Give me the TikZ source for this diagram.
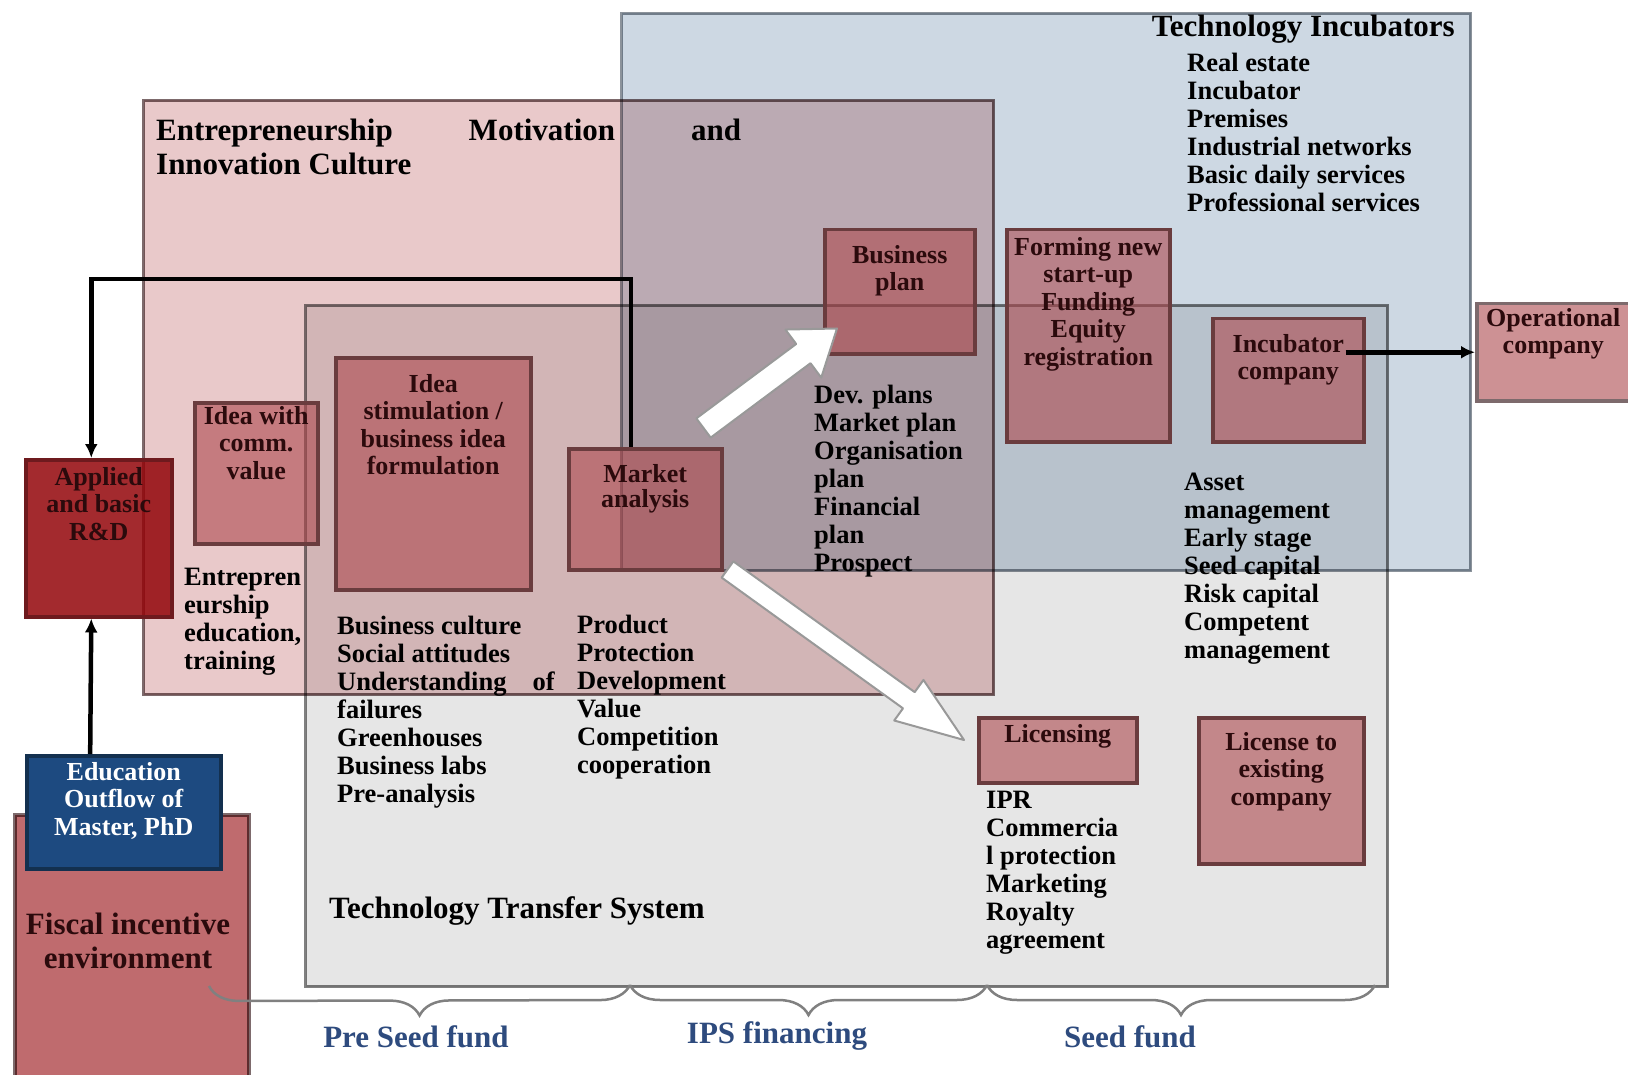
\documentclass[tikz,border=0pt]{standalone}
\usepackage{fontspec}
\setmainfont{Liberation Serif}
\usetikzlibrary{positioning,arrows.meta,calc,decorations.pathreplacing}

\definecolor{incblue}{HTML}{CDD8E3}
\definecolor{incline}{HTML}{8C939B}
\definecolor{entpink}{HTML}{E9C9CA}
\definecolor{entline}{HTML}{7D6A6C}
\definecolor{ttsgray}{HTML}{E6E6E6}
\definecolor{ttsline}{HTML}{808080}
\definecolor{rose}{HTML}{AD484D}
\definecolor{roseline}{HTML}{6A3C3E}
\definecolor{rdred}{HTML}{93050A}
\definecolor{rdline}{HTML}{6E1A1E}
\definecolor{edublue}{HTML}{1D4A80}
\definecolor{eduline}{HTML}{13304F}
\definecolor{fiscal}{HTML}{BF6B6E}
\definecolor{fundblue}{HTML}{2E4B7E}
\definecolor{boxink}{HTML}{2B0A0C}

\tikzset{
  body/.style={font=\fontsize{26.5}{28}\selectfont\bfseries, align=left, inner sep=0pt, anchor=north west},
  title/.style={font=\fontsize{31}{34}\selectfont\bfseries, align=left, inner sep=0pt, anchor=north west},
  area/.style={draw, line width=3pt, anchor=north west, inner sep=0pt},
  rosebox/.style={draw=roseline, fill=rose, fill opacity=0.6, line width=3.5pt, anchor=north west, inner sep=0pt},
  boxtxt/.style={font=\fontsize{26}{27.5}\selectfont\bfseries, text=boxink, align=center, inner sep=0pt},
  link/.style={line width=4.5pt, -{Latex[length=14pt,width=13pt]}},
  blockarrow/.style={draw=gray!80, fill=white, line width=2pt, line join=round},
  fund/.style={decorate, decoration={brace, mirror, amplitude=30pt}, draw=gray, line width=2.5pt},
  fundtxt/.style={font=\fontsize{31}{33}\selectfont\bfseries, text=fundblue, inner sep=0pt},
}

\begin{document}
\begin{tikzpicture}[x=1pt,y=-1pt]
\useasboundingbox (0,0) rectangle (1628,1075);
\fill[white] (0,0) rectangle (1628,1075);

\begin{scope}[blend mode=multiply]
% the three areas
\node[area, draw=incline, fill=incblue, minimum width=849pt, minimum height=557pt] (incarea) at (620,12) {};
\node[area, draw=entline, fill=entpink, minimum width=850pt, minimum height=594pt] (entarea) at (142,99) {};
\node[area, draw=ttsline, fill=ttsgray, minimum width=1082pt, minimum height=681pt] (ttsarea) at (304,304) {};
\node[area, draw=entline, fill=fiscal, line width=3.5pt, minimum width=234pt, minimum height=280pt] (fisc) at (13,813) {};
\end{scope}

% boxes
\node[rosebox, draw=rdline, fill=rdred, fill opacity=0.85, minimum width=146pt, minimum height=157pt] (rd) at (24,458) {};
\node[rosebox, minimum width=123pt, minimum height=141pt] (idea) at (193,401) {};
\node[rosebox, minimum width=195pt, minimum height=232pt] (stim) at (334,356) {};
\node[rosebox, minimum width=153pt, minimum height=121pt] (mkt) at (567,447) {};
\node[rosebox, minimum width=150pt, minimum height=124pt] (bp) at (823,228) {};
\node[rosebox, minimum width=163pt, minimum height=212pt] (form) at (1005,228) {};
\node[rosebox, minimum width=151pt, minimum height=123pt] (inc) at (1211,317) {};
\node[rosebox, draw=entline, minimum width=165pt, minimum height=97pt] (oper) at (1475,302) {};
\node[rosebox, minimum width=158pt, minimum height=65pt] (lic) at (977,716) {};
\node[rosebox, minimum width=165pt, minimum height=146pt] (lte) at (1197,716) {};
\node[rosebox, draw=eduline, fill=edublue, fill opacity=1, minimum width=194pt, minimum height=113pt] (edu) at (25,754) {};

% box texts
\node[boxtxt, below=9pt of rd.north] (rdtxt) {Applied\\and basic\\R\&D};
\node[boxtxt, below=8pt of edu.north, text=white] (edutxt) {Education\\Outflow of\\Master, PhD};
\node[title, anchor=north, align=center, text=boxink] (fisctxt) at (128,913) {Fiscal incentive\\environment};
\node[boxtxt, below=5pt of idea.north] (ideatxt) {Idea with\\comm.\\value};
\node[boxtxt, below=18pt of stim.north] (stimtxt) {Idea\\stimulation /\\business idea\\formulation};
\node[boxtxt, below=17pt of mkt.north, font=\fontsize{26}{25}\selectfont\bfseries] (mkttxt) {Market\\analysis};
\node[boxtxt, below=17pt of bp.north] (bptxt) {Business\\plan};
\node[boxtxt, below=9pt of form.north] (formtxt) {Forming new\\start-up\\Funding\\Equity\\registration};
\node[boxtxt, below=17pt of inc.north] (inctxt) {Incubator\\company};
\node[boxtxt, below=6pt of oper.north, xshift=-6pt] (opertxt) {Operational\\company};
\node[boxtxt, below=8pt of lic.north] (lictxt) {Licensing};
\node[boxtxt, below=16pt of lte.north] (ltetxt) {License to\\existing\\company};

% titles and lists
\node[title, anchor=north east] (inctitle) at (1455,15) {Technology Incubators};
\node[body] (inclist) at (1187,53) {Real estate\\Incubator\\Premises\\Industrial networks\\Basic daily services\\Professional services};
\node[title] (enttitle) at (156,119) {Entrepreneurship\hspace*{76pt}Motivation\hspace*{76pt}and\\Innovation Culture};
\node[title] (ttstitle) at (329,896) {Technology Transfer System};
\node[body] (edulist) at (184,568) {Entrepren\\eurship\\education,\\training};
\node[body] (culturelist) at (337,616) {Business culture\\Social attitudes\\Understanding\hspace*{26pt}of\\failures\\Greenhouses\\Business labs\\Pre-analysis};
\node[body] (productlist) at (577,615) {Product\\Protection\\Development\\Value\\Competition\\cooperation};
\node[body] (planlist) at (814,385) {Dev. plans\\Market plan\\Organisation\\plan\\Financial\\plan\\Prospect};
\node[body] (assetlist) at (1184,473) {Asset\\management\\Early stage\\Seed capital\\Risk capital\\Competent\\management};
\node[body] (iprlist) at (986,791) {IPR\\Commercia\\l protection\\Marketing\\Royalty\\agreement};

% connectors
\coordinate (turn) at (631,279);
\draw[link] (mkt.north -| turn) -- (turn) -| ($(rd.north west)!0.45!(rd.north east)$);
\draw[link] ($(edu.north west)!0.33!(edu.north east)$) -- ($(rd.south west)!0.45!(rd.south east)$);
\draw[link] ($(inc.east |- oper.west)+(-20,0)$) -- (oper.west);

% block arrows
\coordinate (a1s) at ($(mkt.north east)+(-20,-19)$);
\coordinate (a1e) at ($(bp.south west)+(14,-27)$);
\coordinate (h1) at ($(a1e)!42pt!(a1s)$);
\draw[blockarrow] ($(a1s)!12pt!90:(a1e)$) -- ($(h1)!12pt!90:(a1e)$) -- ($(h1)!30pt!90:(a1e)$) -- (a1e)
  -- ($(h1)!30pt!-90:(a1e)$) -- ($(h1)!12pt!-90:(a1e)$) -- ($(a1s)!12pt!-90:(a1e)$) -- cycle;
\coordinate (a2s) at ($(mkt.south east)+(4,-2)$);
\coordinate (a2e) at ($(lic.north west)+(-13,24)$);
\coordinate (h2) at ($(a2e)!68pt!(a2s)$);
\draw[blockarrow] ($(a2s)!10pt!90:(a2e)$) -- ($(h2)!10pt!90:(a2e)$) -- ($(h2)!25pt!90:(a2e)$) -- (a2e)
  -- ($(h2)!25pt!-90:(a2e)$) -- ($(h2)!10pt!-90:(a2e)$) -- ($(a2s)!10pt!-90:(a2e)$) -- cycle;

% funds
\coordinate (f0) at (209,986);
\coordinate (f1) at (630,985);
\coordinate (f2) at (987,985);
\coordinate (f3) at (1375,985);
\draw[fund] (f0) -- (f1);
\draw[fund] (f1) -- (f2);
\draw[fund] (f2) -- (f3);
\node[fundtxt] (preseed) at (416,1037) {Pre Seed fund};
\node[fundtxt] (ips) at (777,1036) {IPS financing};
\node[fundtxt] (seed) at (1130,1037) {Seed fund};
\end{tikzpicture}
\end{document}
